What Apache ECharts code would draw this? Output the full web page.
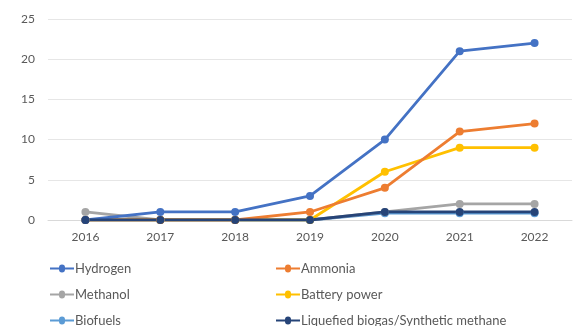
<!DOCTYPE html>
<html><head><meta charset="utf-8">
<script src="https://cdn.jsdelivr.net/npm/echarts@6/dist/echarts.min.js"></script>
<style>html,body{margin:0;padding:0;background:#fff}#c{width:574px;height:326px}</style>
</head><body><div id="c"></div>
<script>
const years = ['2016','2017','2018','2019','2020','2021','2022'];
const hydrogen = [0,1,1,3,10,21,22];
const ammonia = [0,0,0,1,4,11,12];
const methanol = [1,0,0,0,1,2,2];
const battery = [0,0,0,0,6,9,9];
const biofuels = [0,0,0,0,0.85,0.85,0.85];
const lbg = [0,0,0,0,1,1,1];
const names = ['Hydrogen','Ammonia','Methanol','Battery power','Biofuels','Liquefied biogas/Synthetic methane'];
const colors = ['#4472C4','#ED7D31','#A5A5A5','#FFC000','#5B9BD5','#264478'];
const datas = [hydrogen, ammonia, methanol, battery, biofuels, lbg];
const order = [4,2,3,1,0,5];
const chart = echarts.init(document.getElementById('c'));
const series = order.map(i => ({
  name: names[i], type: 'line', data: datas[i], symbol: 'circle', symbolSize: 8,
  lineStyle: {width: 2.8, color: colors[i]}, itemStyle: {color: colors[i]}
}));
const pos = [[50,262],[276,262],[50,288],[276,288],[50,314],[276,314]];
const icon = 'path://M0,4 L9,4 A3,3 0 1 1 15,4 L24,4 L24,6 L15,6 A3,3 0 1 1 9,6 L0,6 Z';
const legends = names.map((n, i) => ({
  left: pos[i][0], top: pos[i][1], itemWidth: 24, itemHeight: 10, padding: 0, itemGap: 0,
  textStyle: {color: '#595959', fontSize: 13, fontFamily: 'Lato', padding: [0,0,0,-4]},
  data: [{name: n, icon: icon}]
}));
chart.setOption({
  animation: false,
  grid: {left: 48, right: 2, top: 19, bottom: 106},
  xAxis: {type: 'category', data: years, boundaryGap: true,
    axisLine: {lineStyle: {color: '#D9D9D9'}}, axisTick: {show: false},
    axisLabel: {color: '#595959', fontSize: 12, fontFamily: 'Lato', margin: 11}},
  yAxis: {type: 'value', min: 0, max: 25, interval: 5,
    axisLine: {show: false}, axisTick: {show: false},
    splitLine: {lineStyle: {color: '#E6E6E6', width: 1}},
    axisLabel: {color: '#595959', fontSize: 12, fontFamily: 'Lato', margin: 13}},
  legend: legends,
  series: series
});
</script></body></html>
